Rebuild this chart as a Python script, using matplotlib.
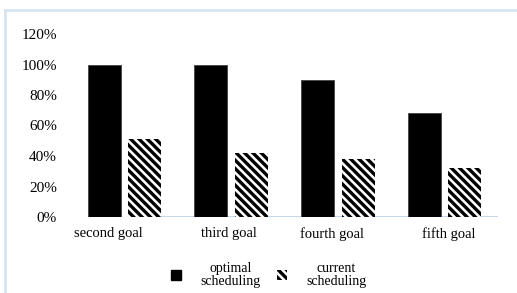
import matplotlib
matplotlib.use("Agg")
import matplotlib.pyplot as plt
import matplotlib.transforms as mtransforms
from matplotlib.patches import Rectangle
from matplotlib.lines import Line2D
import numpy as np

categories = ["second goal", "third goal", "fourth goal", "fifth goal"]
optimal = [1.00, 1.00, 0.90, 0.68]
current = [0.51, 0.42, 0.38, 0.32]
yticks = [0, 0.2, 0.4, 0.6, 0.8, 1.0, 1.2]
ytick_labels = ["0%", "20%", "40%", "60%", "80%", "100%", "120%"]
series_labels = ["optimal\nscheduling", "current\nscheduling"]

plt.rcParams['font.family'] = ['Liberation Serif', 'DejaVu Serif']
plt.rcParams['hatch.linewidth'] = 2.4
plt.rcParams['hatch.color'] = 'black'

W, H = 517, 293
fig = plt.figure(figsize=(W / 100, H / 100), dpi=100)
fig.patch.set_facecolor('white')

ax = fig.add_axes([71 / W, (H - 217) / H, 427 / W, 183 / H])
x = np.arange(len(categories))
width = 0.31
off = 0.19
ax.bar(x - off, optimal, width, color='black', edgecolor='#444444', linewidth=0.6)
ax.bar(x + off, current, width, facecolor='white', edgecolor='black', hatch='\\\\\\\\', linewidth=0)

ax.set_xlim(-0.5, 3.5)
ax.set_ylim(0, 1.2)
ax.set_yticks(yticks)
ax.set_yticklabels(ytick_labels, fontsize=11)
ax.set_xticks(x)
ax.set_xticklabels(categories, fontsize=10.5)
ax.tick_params(axis='y', length=0, pad=10)
ax.tick_params(axis='x', length=0, pad=7)
# small horizontal nudges of the category labels, as in the original layout
label_shift_px = [-16, -2, -6, 4]
for lab, dx in zip(ax.get_xticklabels(), label_shift_px):
    lab.set_transform(lab.get_transform() + mtransforms.ScaledTranslation(dx / 100, 0, fig.dpi_scale_trans))
for s in ax.spines.values():
    s.set_visible(False)
ax.axhline(0, xmin=(162 - 71) / 427, xmax=1.0, color='#c5d7ea', lw=1.5, zorder=0.5)

handles = [Rectangle((0, 0), 1, 1, facecolor='black', edgecolor='black'),
           Rectangle((0, 0), 1, 1, facecolor='white', edgecolor='black', hatch='\\\\\\\\', linewidth=0)]
leg = fig.legend(handles, series_labels, loc='center', bbox_to_anchor=(269 / W, (H - 275) / H),
                 ncol=2, frameon=False, fontsize=10, handlelength=0.7, handleheight=0.7,
                 handletextpad=1.4, columnspacing=1.2)
for t in leg.get_texts():
    t.set_multialignment('center')
    t.set_linespacing(0.95)

border = '#d6e3f0'
fig.add_artist(Line2D([4.5 / W, 1.0], [1 - 10 / H, 1 - 10 / H], color=border, lw=2))
fig.add_artist(Line2D([4.5 / W, 4.5 / W], [0, 1 - 10 / H], color=border, lw=2))

fig.savefig('out.png', dpi=100)
